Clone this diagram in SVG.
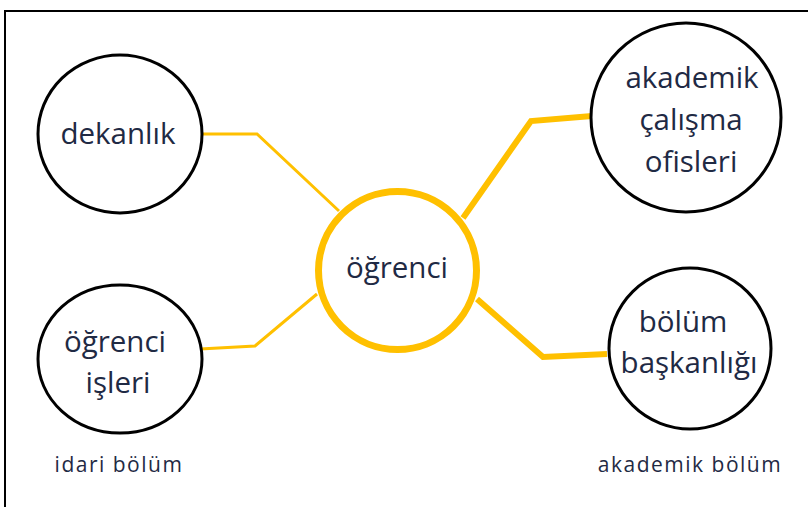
<svg xmlns="http://www.w3.org/2000/svg" width="808" height="507" viewBox="0 0 808 507">
<style>
.node{fill:#fff;stroke:#000;stroke-width:3}
.hub{fill:#fff;stroke:#FFC000;stroke-width:7}
.thin{fill:none;stroke:#FFC000;stroke-width:3;stroke-linejoin:miter}
.thick{fill:none;stroke:#FFC000;stroke-width:6;stroke-linejoin:miter}
text{font-family:"Open Sans","Noto Sans","DejaVu Sans",sans-serif;fill:#1f2a44;text-anchor:middle}
.big{font-size:29.5px}
.small{font-size:21px;letter-spacing:1.5px}
</style>
<rect x="0" y="0" width="808" height="507" fill="#fff"/>
<path d="M5 507 V11 H808" fill="none" stroke="#000" stroke-width="2"/>
<g id="connectors">
<path class="thin" d="M201 134 H257 L339 211"/>
<path class="thin" d="M200 349 L255 346 L317 294"/>
<path class="thick" d="M463 218 L531 121 L592 116"/>
<path class="thick" d="M477 299 L543 357 L607 354"/>
</g>
<g id="dekanlik">
<ellipse class="node" cx="120" cy="134" rx="82" ry="79"/>
<text class="big" x="118" y="144">dekanlık</text>
</g>
<g id="ogrenci-isleri">
<ellipse class="node" cx="120" cy="359" rx="82" ry="74"/>
<text class="big" x="115" y="352">öğrenci</text>
<text class="big" x="118" y="393">işleri</text>
</g>
<g id="ogrenci">
<circle class="hub" cx="397.5" cy="270.5" r="79"/>
<text class="big" x="397" y="278">öğrenci</text>
</g>
<g id="akademik-calisma-ofisleri">
<ellipse class="node" cx="686" cy="117.5" rx="95" ry="94.5"/>
<text class="big" x="692" y="88">akademik</text>
<text class="big" x="691" y="130">çalışma</text>
<text class="big" x="691" y="172">ofisleri</text>
</g>
<g id="bolum-baskanligi">
<ellipse class="node" cx="690" cy="348.5" rx="81" ry="80.5"/>
<text class="big" x="683" y="332">bölüm</text>
<text class="big" x="689" y="373">başkanlığı</text>
</g>
<text class="small" x="119" y="472">idari bölüm</text>
<text class="small" x="690" y="472">akademik bölüm</text>
</svg>
